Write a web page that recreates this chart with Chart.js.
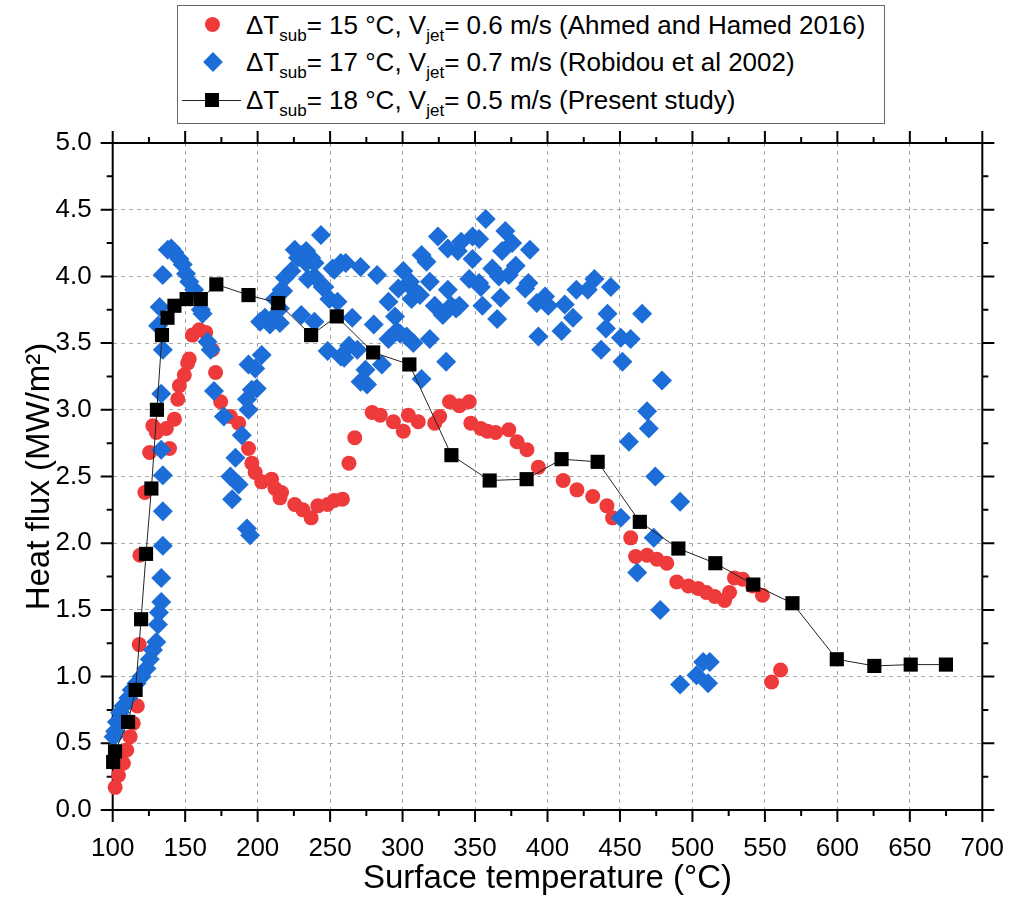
<!DOCTYPE html>
<html>
<head>
<meta charset="utf-8">
<script src="https://cdn.jsdelivr.net/npm/chart.js@4.4.1/dist/chart.umd.min.js"></script>
<style>
  body { margin: 0; background: #fff; }
  #wrap { position: relative; width: 1021px; height: 913px; }
  #legend {
    position: absolute; left: 177px; top: 5px; width: 708px; height: 119px;
    border: 1px solid #666; box-sizing: border-box; background: #fff;
    font-family: 'Liberation Sans', Arial, sans-serif; font-size: 26px; color: #000;
  }
  .row { position: absolute; left: 0; width: 100%; height: 30px; line-height: 30px; }
  .row .txt { position: absolute; left: 68px; top: 0; white-space: nowrap; }
  .row sub { font-size: 17px; vertical-align: -7px; line-height: 0; }
  .mk { position: absolute; }
  .dot { left: 27px; top: 7px; width: 15px; height: 15px; border-radius: 50%; background: #ee3a3a; }
  .dia { left: 28px; top: 8px; width: 14px; height: 14px; background: #1c6dd8; transform: rotate(45deg); }
  .ln { left: 4px; top: 15px; width: 59px; height: 1px; background: #222; }
  .sq { left: 27px; top: 8px; width: 14px; height: 14px; background: #000; }
</style>
</head>
<body>
<div id="wrap">
  <canvas id="chart" width="1021" height="913"></canvas>
  <div id="legend">
    <div class="row" style="top:4px"><div class="mk dot"></div><div class="txt">ΔT<sub>sub</sub>= 15 °C, V<sub>jet</sub>= 0.6 m/s (Ahmed and Hamed 2016)</div></div>
    <div class="row" style="top:41px"><div class="mk dia"></div><div class="txt">ΔT<sub>sub</sub>= 17 °C, V<sub>jet</sub>= 0.7 m/s (Robidou et al 2002)</div></div>
    <div class="row" style="top:79px"><div class="mk ln"></div><div class="mk sq"></div><div class="txt">ΔT<sub>sub</sub>= 18 °C, V<sub>jet</sub>= 0.5 m/s (Present study)</div></div>
  </div>
</div>
<script>
// Ahmed and Hamed 2016 (red circles)
const ahmedT = [101.7, 104, 107.4, 109.7, 112, 114.2, 117, 118.3, 118.8, 122.2, 125.5, 127.7, 130.1, 137, 139.2,
  142.6, 144.9, 146, 149.4, 151.7, 152.8, 155, 159.7, 164.2, 168.7, 171, 174.5, 181.2, 186.9, 193.7,
  196, 198.3, 202.8, 209.6, 212, 215.4, 216.5, 225.6, 231.2, 236.9, 241.5, 248.3, 252.9, 258.5, 263,
  267, 279, 284.6, 293.7, 300.5, 304, 310.8, 322.2, 325.6, 332.4, 339.2, 346, 347.1, 354, 358.5,
  364.2, 373.3, 379, 385.8, 393.7, 410.8, 420.3, 431.2, 441, 444.9, 457.4, 460.8, 468.7, 475.5, 482.3,
  489.2, 497.2, 504, 509.6, 515.4, 522.2, 525.6, 529, 534.7, 541.5, 548.3, 554.6, 560.8];
const ahmedQ = [0.17, 0.26, 0.35, 0.45, 0.55, 0.65, 0.78, 1.24, 1.91, 2.38, 2.68, 2.88, 2.83, 2.86, 2.71,
  2.93, 3.08, 3.18, 3.26, 3.35, 3.38, 3.56, 3.60, 3.58, 3.45, 3.28, 3.06, 2.95, 2.90, 2.71,
  2.60, 2.53, 2.46, 2.48, 2.41, 2.34, 2.38, 2.29, 2.25, 2.19, 2.28, 2.29, 2.32, 2.33, 2.60,
  2.79, 2.98, 2.96, 2.91, 2.84, 2.96, 2.91, 2.90, 2.95, 3.06, 3.03, 3.06, 2.90, 2.86, 2.84,
  2.83, 2.85, 2.76, 2.70, 2.57, 2.47, 2.40, 2.35, 2.28, 2.19, 2.04, 1.90, 1.91, 1.88, 1.85,
  1.71, 1.68, 1.66, 1.63, 1.60, 1.57, 1.63, 1.74, 1.73, 1.68, 1.61, 0.96, 1.05];

// Robidou et al 2002 (blue diamonds)
const robidouT = [100.6, 101.7, 102.9, 105.1, 107.4, 110.8, 113.1, 116.5, 119.9, 123.3, 125.6, 127.8, 130.1, 131.2,
  131.9, 133.5, 133.5, 134.6, 134.6, 134.6, 133.5, 133.5, 134.6, 131.3, 132.4, 134.5,
  138, 140.4, 142.6, 146, 148.3, 150.6, 152.8, 156.2, 160.8, 162, 165.4, 167.6, 169.9, 176.7,
  189.1, 184.7, 181.2, 186.9, 182.4, 192.6, 194.8,
  193.7, 192.6, 196, 199.4, 193.7, 198.3, 202.8, 201.7, 205.1, 208.5, 211.9, 215.4, 217.6, 218.8,
  223.3, 225.6, 230.1, 233.5, 236.9, 239.2, 243.7, 246, 251.7, 257.4, 249.5, 255.1, 230.1, 239.2,
  248.3, 257.4, 233.5, 227.8, 239.2, 234.7, 252.9, 260.8, 271, 282.4, 244.9, 216.5, 212, 209.7,
  215.4, 265.3, 259.7, 263.1, 268.8, 280.1, 274.4, 271, 275.5, 285.7, 290.3, 294.8, 290.3, 297.1,
  300.5, 305.1, 308.5, 306.2, 298.3, 302.8, 296, 307.4, 318.8, 313.1, 330.1, 313.1, 316.5, 318.8,
  324.4, 331.2, 340.4, 348.3, 331.2, 322.2, 333.5, 327.8, 339.2, 346, 352.8, 348.3, 355.1, 357.4,
  352.8, 361.9, 338.1, 370.9, 375.6, 368.7, 387.9, 378.1, 373.3, 366.5, 312, 354, 386.8, 384.6,
  336.9, 367.6, 365.3, 392.6, 398.3, 400.5, 411.9, 417.6, 393.7, 409.7, 419.9, 432.4, 427.8, 443.7,
  441.4, 440.3, 437, 450.6, 457.4, 465.3, 451.7, 479, 468.7, 469.9, 456.2, 474.4, 491.5, 450.6,
  473.3, 461.9, 477.8, 491.5, 502.8, 507.4, 512, 510.8];
const robidouQ = [0.55, 0.59, 0.66, 0.73, 0.78, 0.84, 0.90, 0.95, 1.00, 1.06, 1.13, 1.20, 1.26, 1.39,
  1.48, 1.56, 1.74, 1.98, 2.24, 2.51, 2.70, 3.12, 3.45, 3.63, 3.77, 4.01,
  4.20, 4.21, 4.18, 4.13, 4.09, 4.02, 3.96, 3.90, 3.75, 3.72, 3.51, 3.45, 3.14, 2.95,
  2.81, 2.64, 2.50, 2.44, 2.33, 2.11, 2.06,
  3.00, 3.08, 3.15, 3.16, 3.34, 3.31, 3.41, 3.66, 3.69, 3.64, 3.68, 3.76, 3.89, 3.99,
  4.04, 4.20, 4.16, 4.10, 4.14, 4.00, 4.31, 3.92, 4.06, 4.10, 3.83, 3.81, 3.71, 3.66,
  3.44, 3.40, 4.19, 4.14, 4.10, 3.98, 4.05, 4.10, 4.07, 4.01, 3.92, 3.90, 3.83, 3.68,
  3.65, 3.69, 3.39, 3.48, 3.45, 3.64, 3.30, 3.21, 3.19, 3.34, 3.53, 3.70, 3.81, 3.91,
  4.04, 3.96, 3.89, 3.83, 3.57, 3.55, 3.59, 3.50, 3.53, 3.23, 3.36, 4.16, 4.11, 3.96,
  4.30, 4.21, 4.26, 4.30, 3.90, 3.78, 3.78, 3.71, 3.78, 3.98, 3.95, 4.13, 3.78, 4.43,
  4.28, 4.06, 4.19, 4.34, 4.25, 4.19, 4.20, 4.08, 4.01, 4.00, 3.86, 3.92, 3.95, 3.91,
  3.76, 3.84, 3.68, 3.80, 3.85, 3.78, 3.79, 3.69, 3.55, 3.59, 3.90, 3.98, 3.90, 3.92,
  3.72, 3.61, 3.45, 3.54, 3.53, 3.72, 3.36, 3.22, 2.99, 2.86, 2.76, 2.50, 2.31, 2.19,
  2.04, 1.78, 1.50, 0.94, 1.01, 1.11, 1.11, 0.95];

// Present study (black squares with line)
const presentT = [100.3, 101.6, 110.6, 115.8, 119.6, 123, 126.7, 130.5, 134, 137.8, 142.6, 151, 160.8, 171.5,
  193.7, 214.2, 236.9, 254.6, 279.7, 304.7, 333.7, 360.1, 385.6, 409.7, 434.6, 463.7, 490.3, 515.8,
  542, 569, 599.6, 625.5, 650.6, 674.9];
const presentQ = [0.36, 0.44, 0.66, 0.90, 1.43, 1.92, 2.41, 3.00, 3.56, 3.69, 3.78, 3.83, 3.83, 3.94,
  3.86, 3.80, 3.56, 3.70, 3.43, 3.34, 2.66, 2.47, 2.48, 2.63, 2.61, 2.16, 1.96, 1.85,
  1.69, 1.55, 1.13, 1.08, 1.09, 1.09];

const xTicks = [100, 700, 50];
const yTicks = [0, 5, 0.5];

const pts = (xs, ys) => xs.map((x, i) => ({ x: x, y: ys[i] }));

Chart.defaults.font.family = "'Liberation Sans', Arial, sans-serif";
Chart.defaults.color = '#000';

const gridColor = (lo, hi) => (ctx) => {
    const v = ctx.tick ? ctx.tick.value : null;
    return (v === lo || v === hi) ? 'rgba(0,0,0,0)' : '#a8a8a8';
};

// frame box plus major / minor tick marks on all four sides
const frameTicks = {
    id: 'frameTicks',
    beforeDatasetsDraw(chart) {
        const { ctx, chartArea: a, scales: { x, y } } = chart;
        ctx.save();
        ctx.strokeStyle = '#000';
        ctx.lineWidth = 2;
        ctx.strokeRect(a.left, a.top, a.right - a.left, a.bottom - a.top);
        ctx.beginPath();
        for (let v = xTicks[0]; v <= xTicks[1]; v += xTicks[2] / 2) {
            const px = x.getPixelForValue(v);
            const len = (v % xTicks[2] === 0) ? 12 : 6;
            ctx.moveTo(px, a.bottom); ctx.lineTo(px, a.bottom + len);
            ctx.moveTo(px, a.top); ctx.lineTo(px, a.top - len);
        }
        for (let k = 0; k <= 20; k++) {
            const v = k * 0.25;
            const py = y.getPixelForValue(v);
            const len = (k % 2 === 0) ? 12 : 6;
            ctx.moveTo(a.left, py); ctx.lineTo(a.left - len, py);
            ctx.moveTo(a.right, py); ctx.lineTo(a.right + len, py);
        }
        ctx.stroke();
        ctx.restore();
    }
};

new Chart(document.getElementById('chart'), {
    type: 'scatter',
    data: {
        datasets: [
            {
                label: 'Ahmed and Hamed 2016',
                data: pts(ahmedT, ahmedQ),
                pointStyle: 'circle',
                pointRadius: 7.5,
                backgroundColor: '#ee3a3a',
                borderColor: '#ee3a3a',
                borderWidth: 0,
                clip: false,
                order: 3,
            },
            {
                label: 'Robidou et al 2002',
                data: pts(robidouT, robidouQ),
                pointStyle: 'rectRot',
                pointRadius: 10,
                backgroundColor: '#1c6dd8',
                borderColor: '#1c6dd8',
                borderWidth: 0,
                clip: false,
                order: 2,
            },
            {
                label: 'Present study',
                data: pts(presentT, presentQ),
                showLine: true,
                borderColor: '#222',
                borderWidth: 1,
                pointStyle: 'rect',
                pointRadius: 10,
                pointBackgroundColor: '#000',
                pointBorderColor: '#000',
                pointBorderWidth: 0,
                clip: false,
                order: 1,
            },
        ],
    },
    options: {
        responsive: false,
        animation: false,
        devicePixelRatio: 1,
        layout: { padding: { left: 0, right: 29, top: 143, bottom: 0 } },
        plugins: {
            legend: { display: false },
            tooltip: { enabled: false },
        },
        scales: {
            x: {
                type: 'linear',
                min: xTicks[0],
                max: xTicks[1],
                afterFit: (s) => { s.height = 103; },
                ticks: {
                    stepSize: xTicks[2],
                    autoSkip: false,
                    maxRotation: 0,
                    padding: 17,
                    font: { size: 26 },
                    color: '#000',
                },
                grid: {
                    color: gridColor(xTicks[0], xTicks[1]),
                    lineWidth: 1,
                    drawTicks: true,
                    tickLength: 6,
                    tickColor: 'rgba(0,0,0,0)',
                },
                border: { display: false, dash: [4, 4] },
                title: {
                    display: true,
                    text: 'Surface temperature (°C)',
                    font: { size: 33 },
                    color: '#000',
                    padding: { top: 14, bottom: 14 },
                },
            },
            y: {
                type: 'linear',
                min: yTicks[0],
                max: yTicks[1],
                afterFit: (s) => { s.width = 112.7; },
                ticks: {
                    stepSize: yTicks[2],
                    padding: 21,
                    font: { size: 26 },
                    color: '#000',
                    callback: (v) => v.toFixed(1),
                },
                grid: { color: gridColor(yTicks[0], yTicks[1]), lineWidth: 1, drawTicks: false },
                border: { display: false, dash: [4, 4] },
                title: {
                    display: true,
                    text: 'Heat flux (MW/m²)',
                    font: { size: 33 },
                    color: '#000',
                    padding: { top: 20, bottom: 20 },
                },
            },
        },
    },
    plugins: [frameTicks],
});
</script>
</body>
</html>
